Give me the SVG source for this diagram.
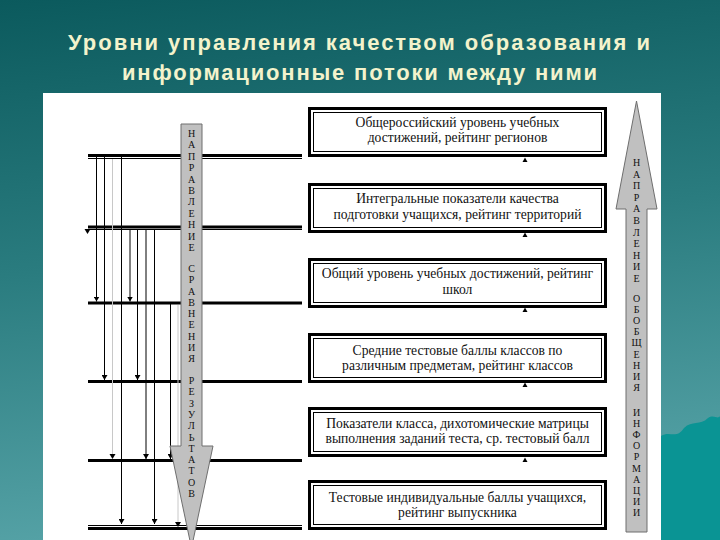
<svg xmlns="http://www.w3.org/2000/svg" width="720" height="540" viewBox="0 0 720 540">
<defs>
<linearGradient id="bg" x1="0" y1="0" x2="0.15" y2="1">
<stop offset="0" stop-color="#0b5a5d"/>
<stop offset="0.5" stop-color="#2a7c7f"/>
<stop offset="1" stop-color="#55a2a6"/>
</linearGradient>
<marker id="ah" viewBox="0 -3 5 6" refX="5" refY="0" markerWidth="5" markerHeight="6" markerUnits="userSpaceOnUse" orient="auto">
<path d="M0,-3 L5,0 L0,3 z" fill="#000"/>
</marker>
<style>
.title{font-family:"Liberation Sans",Arial,sans-serif;font-weight:bold;font-size:22px;fill:#f3f3cc;text-anchor:middle}
.bo{fill:#fff;stroke:#000;stroke-width:3}
.bi{fill:none;stroke:#000;stroke-width:1}
.bt{font-family:"Liberation Serif","Times New Roman",serif;font-size:13.6px;fill:#111;text-anchor:middle}
.lvl{stroke:#000;stroke-width:3}
.thin{stroke:#000;stroke-width:1}
.v{stroke:#000;stroke-width:1;fill:none;marker-end:url(#ah)}
.vf{stroke:#c8c8c8;stroke-width:1;fill:none}
.big{fill:#c0c0c0;stroke:#6e6e6e;stroke-width:1}
.vt{font-family:"Liberation Serif","Times New Roman",serif;font-size:10px;fill:#111;text-anchor:middle}
.tri{fill:#000}
</style>
</defs>
<rect x="0" y="0" width="720" height="540" fill="url(#bg)"/>
<path d="M661,436 C670,430 676,440 684,428 C692,420 700,426 708,418 C714,414 718,420 720,416 L720,540 L661,540 z" fill="#0a9494"/>
<text class="title" x="359" y="50" textLength="582" lengthAdjust="spacing">Уровни управления качеством образования  и</text>
<text class="title" x="359.5" y="80" textLength="475" lengthAdjust="spacing">информационные потоки между ними</text>
<rect x="43" y="93" width="618" height="447" fill="#fff"/>

<g id="connectors">
<line class="lvl" x1="88" y1="155.5" x2="302" y2="155.5"/>
<line class="thin" x1="88" y1="158.5" x2="302" y2="158.5"/>
<line class="lvl" x1="88" y1="227" x2="302" y2="227"/>
<line class="thin" x1="88" y1="229.5" x2="302" y2="229.5"/>
<line class="lvl" x1="88" y1="303" x2="302" y2="303"/>
<line class="lvl" x1="88" y1="381.5" x2="302" y2="381.5"/>
<line class="lvl" x1="88" y1="460.5" x2="302" y2="460.5"/>
<line class="thin" x1="88" y1="525.5" x2="302" y2="525.5"/>
<line class="lvl" x1="88" y1="528.5" x2="302" y2="528.5"/>
<line class="vf" x1="112.5" y1="159" x2="112.5" y2="455"/>
<line class="vf" x1="178" y1="305" x2="178" y2="523"/>
<path class="v" d="M96.5,157 V301.5"/>
<path class="v" d="M104.5,157 V380"/>
<path class="v" d="M121.5,157 V524"/>
<path class="v" d="M130,229 V301.5"/>
<path class="v" d="M137.5,229 V380"/>
<path class="v" d="M146,229 V459"/>
<path class="v" d="M154.5,229 V524"/>
<path class="v" d="M170.5,304 V459"/>
<path class="tri" d="M84.5,229 L90.5,229 L87.5,234 z"/>
<path class="tri" d="M109.5,454 L115.5,454 L112.5,459 z"/>
<path class="tri" d="M175,522 L181,522 L178,527 z"/>
<path class="tri" d="M522.5,162 L527.5,162 L525,157.5 z"/>
<path class="tri" d="M522.5,237 L527.5,237 L525,232.5 z"/>
<path class="tri" d="M522.5,312 L527.5,312 L525,307.5 z"/>
<path class="tri" d="M522.5,387 L527.5,387 L525,382.5 z"/>
<path class="tri" d="M522.5,462 L527.5,462 L525,457.5 z"/>
</g>

<g id="arrow-down">
<path class="big" d="M181,124 L202,124 L202,446 L213,446 L191.5,548 L170,446 L181,446 z"/>
<text class="vt"><tspan x="191.5" y="137">Н</tspan><tspan x="191.5" dy="11.4">А</tspan><tspan x="191.5" dy="11.4">П</tspan><tspan x="191.5" dy="11.4">Р</tspan><tspan x="191.5" dy="11.4">А</tspan><tspan x="191.5" dy="11.4">В</tspan><tspan x="191.5" dy="11.4">Л</tspan><tspan x="191.5" dy="11.4">Е</tspan><tspan x="191.5" dy="11.4">Н</tspan><tspan x="191.5" dy="11.4">И</tspan><tspan x="191.5" dy="11.4">Е</tspan><tspan x="191.5" y="272">С</tspan><tspan x="191.5" dy="11.25">Р</tspan><tspan x="191.5" dy="11.25">А</tspan><tspan x="191.5" dy="11.25">В</tspan><tspan x="191.5" dy="11.25">Н</tspan><tspan x="191.5" dy="11.25">Е</tspan><tspan x="191.5" dy="11.25">Н</tspan><tspan x="191.5" dy="11.25">И</tspan><tspan x="191.5" dy="11.25">Я</tspan><tspan x="191.5" y="384">Р</tspan><tspan x="191.5" dy="11.3">Е</tspan><tspan x="191.5" dy="11.3">З</tspan><tspan x="191.5" dy="11.3">У</tspan><tspan x="191.5" dy="11.3">Л</tspan><tspan x="191.5" dy="11.3">Ь</tspan><tspan x="191.5" dy="11.3">Т</tspan><tspan x="191.5" dy="11.3">А</tspan><tspan x="191.5" dy="11.3">Т</tspan><tspan x="191.5" dy="11.3">О</tspan><tspan x="191.5" dy="11.3">В</tspan></text>
</g>

<g id="arrow-up">
<path class="big" d="M636.5,101 L657,209 L647,209 L647,532 L626,532 L626,209 L616,209 z"/>
<text class="vt"><tspan x="636.5" y="166">Н</tspan><tspan x="636.5" dy="11.6">А</tspan><tspan x="636.5" dy="11.6">П</tspan><tspan x="636.5" dy="11.6">Р</tspan><tspan x="636.5" dy="11.6">А</tspan><tspan x="636.5" dy="11.6">В</tspan><tspan x="636.5" dy="11.6">Л</tspan><tspan x="636.5" dy="11.6">Е</tspan><tspan x="636.5" dy="11.6">Н</tspan><tspan x="636.5" dy="11.6">И</tspan><tspan x="636.5" dy="11.6">Е</tspan><tspan x="636.5" y="302">О</tspan><tspan x="636.5" dy="11.1">Б</tspan><tspan x="636.5" dy="11.1">О</tspan><tspan x="636.5" dy="11.1">Б</tspan><tspan x="636.5" dy="11.1">Щ</tspan><tspan x="636.5" dy="11.1">Е</tspan><tspan x="636.5" dy="11.1">Н</tspan><tspan x="636.5" dy="11.1">И</tspan><tspan x="636.5" dy="11.1">Я</tspan><tspan x="636.5" y="416">И</tspan><tspan x="636.5" dy="11.1">Н</tspan><tspan x="636.5" dy="11.1">Ф</tspan><tspan x="636.5" dy="11.1">О</tspan><tspan x="636.5" dy="11.1">Р</tspan><tspan x="636.5" dy="11.1">М</tspan><tspan x="636.5" dy="11.1">А</tspan><tspan x="636.5" dy="11.1">Ц</tspan><tspan x="636.5" dy="11.1">И</tspan><tspan x="636.5" dy="11.1">И</tspan></text>
</g>

<g id="box1">
<rect class="bo" x="309.5" y="108.5" width="296" height="47"/>
<rect class="bi" x="313.5" y="112.5" width="288" height="39"/>
<text class="bt" x="457.5" y="127">Общероссийский уровень учебных</text>
<text class="bt" x="457.5" y="142">достижений, рейтинг регионов</text>
</g>
<g id="box2">
<rect class="bo" x="309.5" y="184.5" width="296" height="47"/>
<rect class="bi" x="313.5" y="188.5" width="288" height="39"/>
<text class="bt" x="457.5" y="203">Интегральные показатели качества</text>
<text class="bt" x="457.5" y="219">подготовки учащихся, рейтинг территорий</text>
</g>
<g id="box3">
<rect class="bo" x="309.5" y="259.5" width="296" height="47"/>
<rect class="bi" x="313.5" y="263.5" width="288" height="39"/>
<text class="bt" x="457.5" y="278">Общий уровень учебных достижений, рейтинг</text>
<text class="bt" x="457.5" y="294">школ</text>
</g>
<g id="box4">
<rect class="bo" x="309.5" y="334.5" width="296" height="47"/>
<rect class="bi" x="313.5" y="338.5" width="288" height="39"/>
<text class="bt" x="457.5" y="355">Средние тестовые баллы классов по</text>
<text class="bt" x="457.5" y="370">различным предметам, рейтинг классов</text>
</g>
<g id="box5">
<rect class="bo" x="309.5" y="408.5" width="296" height="47"/>
<rect class="bi" x="313.5" y="412.5" width="288" height="39"/>
<text class="bt" x="457.5" y="428">Показатели класса, дихотомические матрицы</text>
<text class="bt" x="457.5" y="443">выполнения заданий теста, ср. тестовый балл</text>
</g>
<g id="box6">
<rect class="bo" x="309.5" y="481.5" width="296" height="47"/>
<rect class="bi" x="313.5" y="485.5" width="288" height="39"/>
<text class="bt" x="457.5" y="502">Тестовые индивидуальные баллы учащихся,</text>
<text class="bt" x="457.5" y="517">рейтинг выпускника</text>
</g>
</svg>
